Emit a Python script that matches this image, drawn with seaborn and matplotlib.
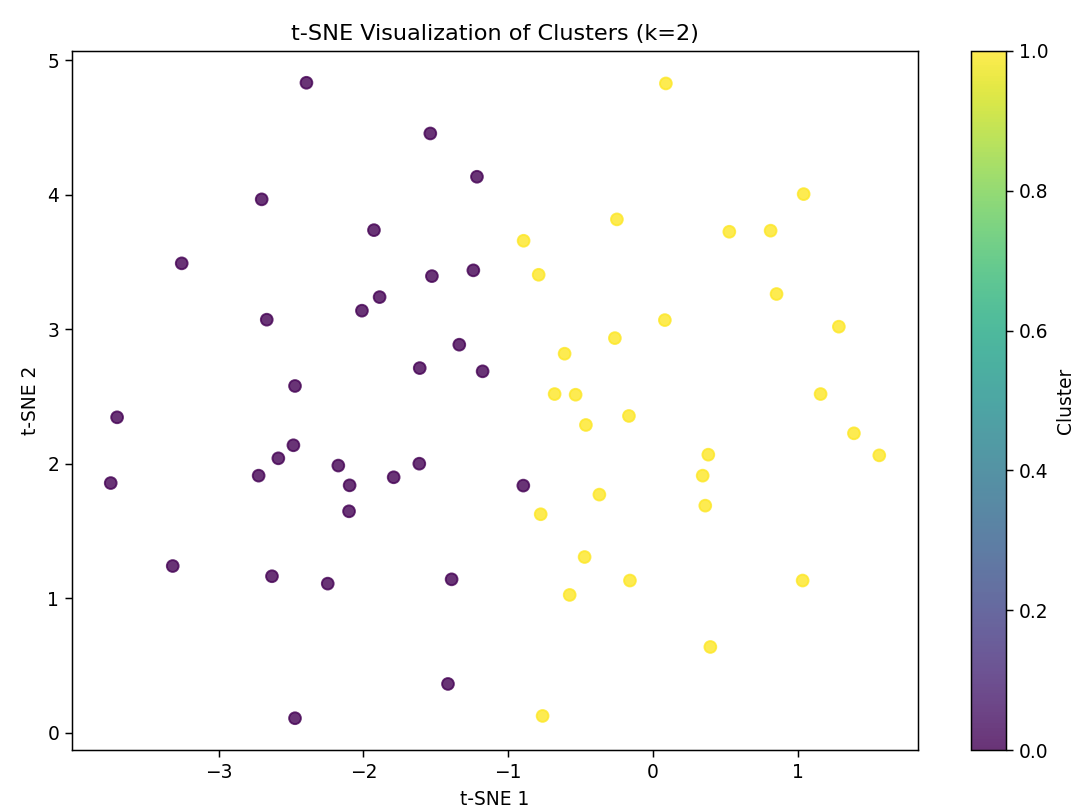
import numpy as np
import pandas as pd
import matplotlib
matplotlib.use("Agg")
import matplotlib.pyplot as plt
import seaborn as sns
from matplotlib.cm import ScalarMappable
from matplotlib.colors import Normalize

# Cluster 0 (purple)
x0 = [-2.393, -1.538, -1.216, -2.702, -1.927, -3.254, -1.527, -1.241, -1.888, -2.010,
      -2.667, -1.338, -1.611, -1.177, -2.472, -3.700, -3.744, -2.483, -2.587, -2.723,
      -2.173, -2.095, -2.099, -1.791, -1.614, -3.316, -2.631, -2.246, -1.391, -1.416,
      -2.472, -0.896]
y0 = [4.834, 4.457, 4.135, 3.967, 3.738, 3.491, 3.396, 3.439, 3.240, 3.139,
      3.072, 2.886, 2.712, 2.688, 2.579, 2.346, 1.857, 2.138, 2.041, 1.912,
      1.987, 1.840, 1.647, 1.900, 2.001, 1.240, 1.164, 1.109, 1.141, 0.363,
      0.108, 1.838]
# Cluster 1 (yellow)
x1 = [0.088, 1.039, -0.250, 0.526, 0.811, -0.894, -0.790, 0.852, 0.081, 1.282,
      -0.264, -0.611, -0.680, -0.535, 1.156, -0.464, -0.167, 1.386, 1.561, 0.381,
      0.342, -0.371, 0.360, -0.776, -0.473, -0.160, 1.032, -0.576, 0.395, -0.763]
y1 = [4.829, 4.006, 3.818, 3.726, 3.734, 3.659, 3.406, 3.263, 3.069, 3.020,
      2.935, 2.819, 2.519, 2.514, 2.519, 2.289, 2.356, 2.227, 2.063, 2.068,
      1.912, 1.771, 1.689, 1.625, 1.307, 1.132, 1.132, 1.025, 0.638, 0.125]

df = pd.DataFrame({
    "tsne1": x0 + x1,
    "tsne2": y0 + y1,
    "cluster": [0] * len(x0) + [1] * len(x1),
})

dpi = 134.6
fig = plt.figure(figsize=(1077 / dpi, 812 / dpi), dpi=dpi)
ax = fig.add_axes([72.3 / 1077, 1 - 750 / 812, (917.7 - 72.3) / 1077, (750 - 51) / 812])
cax = fig.add_axes([971 / 1077, 1 - 750 / 812, 35 / 1077, (750 - 51) / 812])

norm = Normalize(0, 1)
sns.scatterplot(data=df, x="tsne1", y="tsne2", hue="cluster", hue_norm=norm,
                palette="viridis", alpha=0.8, s=40, linewidth=1.0, edgecolor="face",
                legend=False, ax=ax)

ax.set_title("t-SNE Visualization of Clusters (k=2)")
ax.set_xlabel("t-SNE 1")
ax.set_ylabel("t-SNE 2")
ax.set_xticks([-3, -2, -1, 0, 1])
ax.set_yticks([0, 1, 2, 3, 4, 5])

sm = ScalarMappable(norm=norm, cmap="viridis")
cb = fig.colorbar(sm, cax=cax, alpha=0.8)
cb.set_label("Cluster")
cb.outline.set_linewidth(0.8)

fig.savefig("out.png", dpi=dpi)
